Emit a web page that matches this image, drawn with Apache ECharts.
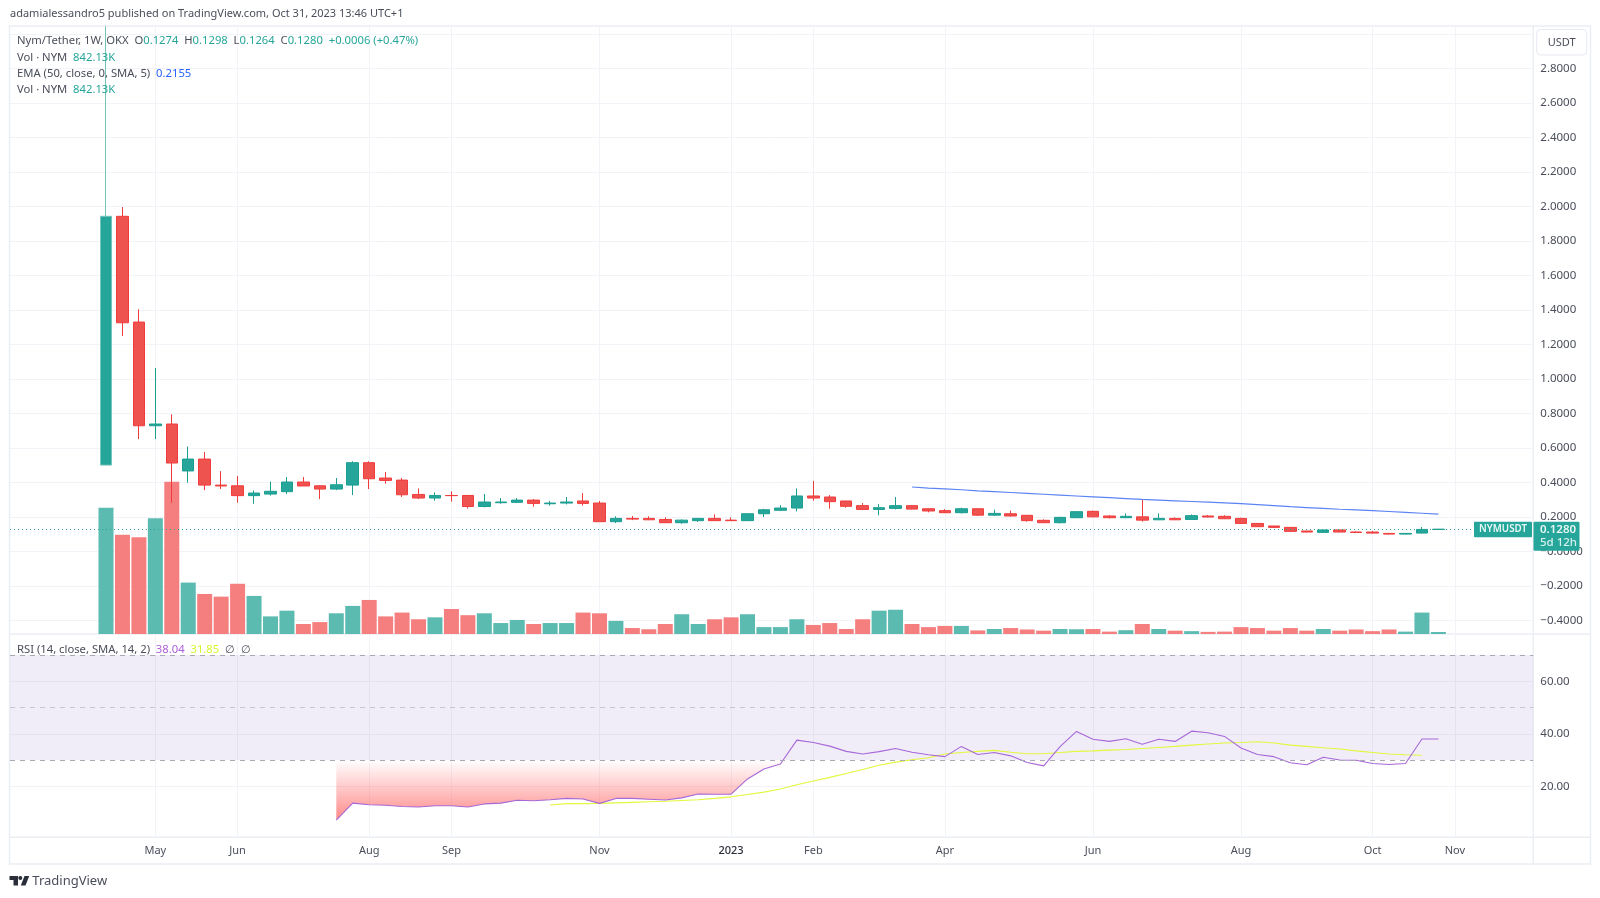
<!DOCTYPE html>
<html>
<head>
<meta charset="utf-8">
<style>html,body{margin:0;padding:0;background:#fff}#chart{width:1600px;height:898px}</style>
<script src="https://cdn.jsdelivr.net/npm/echarts@6/dist/echarts.min.js"></script>
</head>
<body>
<div id="chart"></div>
<script>
// weekly candles: open, close, low, high
const candles = [
  [0.500,1.942,0.500,3.045],[1.942,1.325,1.248,1.996],[1.329,0.728,0.651,1.403],[0.728,0.738,0.651,1.063],
  [0.738,0.512,0.282,0.794],[0.466,0.535,0.398,0.607],[0.535,0.384,0.355,0.576],[0.384,0.379,0.361,0.465],
  [0.380,0.323,0.282,0.437],[0.323,0.338,0.276,0.353],[0.332,0.348,0.323,0.404],[0.346,0.402,0.332,0.431],
  [0.402,0.379,0.379,0.431],[0.380,0.361,0.303,0.384],[0.361,0.386,0.355,0.425],[0.384,0.514,0.326,0.522],
  [0.514,0.421,0.361,0.522],[0.425,0.411,0.392,0.460],[0.413,0.328,0.315,0.425],[0.330,0.309,0.303,0.365],
  [0.309,0.324,0.294,0.342],[0.324,0.323,0.288,0.348],[0.324,0.260,0.249,0.324],[0.260,0.286,0.255,0.332],
  [0.282,0.286,0.276,0.309],[0.284,0.297,0.282,0.309],[0.297,0.278,0.259,0.303],[0.276,0.280,0.265,0.292],
  [0.280,0.286,0.272,0.315],[0.292,0.278,0.265,0.338],[0.280,0.172,0.172,0.292],[0.172,0.191,0.164,0.203],
  [0.191,0.187,0.181,0.205],[0.191,0.183,0.181,0.203],[0.185,0.166,0.164,0.197],[0.166,0.181,0.160,0.185],
  [0.178,0.191,0.170,0.191],[0.191,0.178,0.176,0.214],[0.181,0.178,0.176,0.197],[0.178,0.218,0.176,0.220],
  [0.218,0.241,0.199,0.247],[0.238,0.251,0.234,0.268],[0.251,0.321,0.232,0.365],[0.321,0.309,0.294,0.408],
  [0.315,0.288,0.247,0.326],[0.292,0.261,0.253,0.292],[0.265,0.243,0.243,0.280],[0.243,0.253,0.209,0.274],
  [0.249,0.265,0.243,0.315],[0.265,0.245,0.243,0.268],[0.247,0.234,0.226,0.247],[0.236,0.224,0.222,0.245],
  [0.224,0.247,0.220,0.253],[0.247,0.210,0.205,0.247],[0.210,0.220,0.205,0.241],[0.218,0.205,0.203,0.236],
  [0.209,0.178,0.172,0.209],[0.180,0.166,0.164,0.185],[0.166,0.197,0.162,0.200],[0.195,0.230,0.193,0.232],
  [0.232,0.200,0.198,0.236],[0.205,0.195,0.191,0.210],[0.195,0.203,0.193,0.220],[0.200,0.181,0.172,0.301],
  [0.183,0.191,0.181,0.220],[0.191,0.183,0.181,0.197],[0.185,0.207,0.183,0.214],[0.205,0.199,0.197,0.210],
  [0.203,0.189,0.187,0.209],[0.191,0.162,0.160,0.195],[0.162,0.143,0.143,0.162],[0.147,0.139,0.139,0.147],
  [0.139,0.116,0.116,0.139],[0.118,0.112,0.110,0.118],[0.110,0.124,0.110,0.124],[0.124,0.112,0.112,0.124],
  [0.112,0.110,0.110,0.116],[0.112,0.106,0.104,0.118],[0.104,0.100,0.098,0.104],[0.100,0.104,0.098,0.104],
  [0.106,0.127,0.104,0.141],[0.1274,0.1280,0.1264,0.1298]
];
// volume in millions
const volumes = [
  53,41.7,40.6,48.6,64,21.6,16.8,15.7,21.1,16,7.4,9.8,4.2,5,8.7,11.8,14.3,7.4,9,6.2,7,10.5,7.9,8.7,4.6,5.9,4.2,4.6,4.6,9,8.7,
  5.5,2.5,2,4.2,8.3,4.2,6.2,7,8.3,2.9,2.9,6.2,3.8,4.6,2.1,6.2,9.8,10.2,4.2,2.9,3.4,3.4,1.5,2.1,2.5,1.9,1.4,2.1,
  2,2.1,1,1.6,4.2,2.1,1.4,1.2,0.9,1,2.9,2.5,1.4,2.5,1.4,2.1,1.4,1.9,1.2,1.9,1,9,0.84
];
const emaStart = 49;
const emaValues = [0.373,0.367,0.362,0.357,0.351,0.346,0.341,0.336,0.331,0.326,0.321,0.316,0.311,0.306,0.301,0.297,0.293,0.289,0.285,0.281,0.277,0.271,0.265,0.259,0.254,0.249,0.244,0.240,0.236,0.231,0.226,0.221,0.2155];
const rsiStart = 14;
const rsiValues = [7.1,13.6,13,12.8,12.3,12.1,12.6,12.6,12.1,13.3,13.6,14.7,14.5,14.9,15.4,15.2,13.5,15.4,15.4,15.1,14.8,15.6,17.1,17,17,22.8,26.6,28.5,37.6,36.7,35.3,33.3,32.3,33.2,34.4,33,32,31.3,35.2,32.1,32.9,31.6,29.1,27.8,35.1,40.9,37.9,37.1,38.1,36,37.9,37.1,41,40.4,39,34.6,32.1,31.3,29,28.2,31.1,30,29.9,28.7,28.3,28.7,38,38.04];
const smaStart = 27;
const smaValues = [12.9,13.4,13.4,13.5,13.7,13.9,14.1,14.3,14.6,14.9,15.4,16,16.9,17.8,19,20.6,22,23.4,24.9,26.4,28,29.2,30.1,30.9,32.3,32.9,33.3,33.7,33,32.4,32.4,32.9,33.3,33.5,33.8,34,34.4,34.8,35.2,35.7,36.1,36.5,36.7,37,36.5,35.7,35.2,34.7,34.2,33.5,32.9,32.3,32,31.85];
const lastPrice = 0.128;
const monthTicks = [3,8,16,21,30,38,43,51,60,69,77,82];
const monthLabels = ['May','Jun','Aug','Sep','Nov','2023','Feb','Apr','Jun','Aug','Oct','Nov'];
const priceLabels = [2.8,2.6,2.4,2.2,2,1.8,1.6,1.4,1.2,1,0.8,0.6,0.4,0.2,0,-0.2,-0.4];
const priceGrid = [3].concat(priceLabels);
const rsiLabels = [60,40,20];

const UP = '#26a69a', DOWN = '#ef5350';
const FONT = '"Noto Sans", sans-serif';
const GRID = '#f1f3f8', FRAME = '#eceef5', TEXT = '#4a4e5a';

const chart = echarts.init(document.getElementById('chart'), null, { renderer: 'canvas' });

const xBase = { type: 'value', min: -5.836, max: 86.77, axisLine: { show: false },
  axisTick: { show: false, customValues: monthTicks }, splitLine: { show: true, lineStyle: { color: GRID, width: 1 } } };

function txt(x, y, text, size, fill, extra) {
  return { type: 'text', z: 100, silent: true, style: Object.assign({ x, y, text, fill, font: size + 'px ' + FONT, verticalAlign: 'middle' }, extra || {}) };
}
function hline(y) { return { type: 'line', z: 0, silent: true, shape: { x1: 10, y1: y, x2: 1590, y2: y }, style: { stroke: FRAME, lineWidth: 1.5 } }; }
function vline(x) { return { type: 'line', z: 0, silent: true, shape: { x1: x, y1: 26, x2: x, y2: 864 }, style: { stroke: FRAME, lineWidth: 1.5 } }; }

const LEGEND_FONT = '11.25px ' + FONT;
const legendRich = {
  k: { fill: TEXT, font: LEGEND_FONT },
  g: { fill: UP, font: LEGEND_FONT },
  b: { fill: '#2962ff', font: LEGEND_FONT },
  p: { fill: '#ab5fd8', font: LEGEND_FONT },
  y: { fill: '#d9f52e', font: LEGEND_FONT }
};
function legendLine(y, text) {
  return { type: 'text', z: 100, silent: true, style: { x: 17, y, text, verticalAlign: 'middle', rich: legendRich } };
}

chart.setOption({
  animation: false,
  backgroundColor: '#fff',
  textStyle: { fontFamily: 'Noto Sans' },
  grid: [
    { left: 10, right: 66.7, top: 26, height: 608 },
    { left: 10, right: 66.7, top: 634, height: 203.3 }
  ],
  xAxis: [
    Object.assign({ gridIndex: 0, axisLabel: { show: false } }, xBase),
    Object.assign({ gridIndex: 1, axisLabel: {
      show: true, customValues: monthTicks, margin: 8, color: TEXT, fontSize: 11, hideOverlap: false,
      formatter: v => { const s = monthLabels[monthTicks.indexOf(v)]; return s === '2023' ? '{y|2023}' : s; },
      rich: { y: { color: '#2a2e39', fontSize: 11, fontWeight: 500 } }
    } }, xBase)
  ],
  yAxis: [
    { gridIndex: 0, type: 'value', position: 'right', min: -0.479, max: 3.045, axisLine: { show: false },
      axisTick: { show: false, customValues: priceGrid }, splitLine: { show: true, lineStyle: { color: GRID } },
      axisLabel: { customValues: priceLabels, margin: 7, color: TEXT, fontSize: 11.5,
        formatter: v => v === 0 ? '\u22120.0000' : (v < 0 ? '\u2212' : '') + Math.abs(v).toFixed(4) } },
    { gridIndex: 0, type: 'value', min: 0, max: 255.4, show: false },
    { gridIndex: 1, type: 'value', position: 'right', min: 0.59, max: 78, axisLine: { show: false },
      axisTick: { show: false, customValues: rsiLabels }, splitLine: { show: true, lineStyle: { color: GRID } },
      axisLabel: { customValues: rsiLabels, margin: 7, color: TEXT, fontSize: 11.5, formatter: v => v.toFixed(2) } }
  ],
  series: [
    { name: 'Vol', type: 'bar', xAxisIndex: 0, yAxisIndex: 1, barWidth: 15, z: 1,
      data: volumes.map((v, i) => ({ value: [i, v],
        itemStyle: { color: candles[i][1] >= candles[i][0] ? '#5cbbb1' : '#f57f7f' } })) },
    { name: 'Nym/Tether', type: 'candlestick', xAxisIndex: 0, yAxisIndex: 0, barWidth: 12, z: 3,
      encode: { x: 0, y: [1, 2, 3, 4] },
      itemStyle: { color: UP, color0: DOWN, borderColor: '#1a9e90', borderColor0: '#f03c3c', borderWidth: 1 },
      // the first week's long wick is pale in the picture
      data: candles.map((c, i) => i === 0
        ? { value: [i].concat(c), itemStyle: { borderColor: '#74c4ba' } }
        : [i].concat(c)),
      markLine: { silent: true, symbol: 'none', label: { show: false }, animation: false,
        lineStyle: { color: '#26a69a', type: [1, 3], width: 1 }, data: [{ yAxis: lastPrice }] } },
    { name: 'EMA', type: 'line', xAxisIndex: 0, yAxisIndex: 0, symbol: 'none', z: 4,
      lineStyle: { color: '#5c83f5', width: 1.2 }, data: emaValues.map((v, i) => [i + emaStart, v]) },
    { name: 'RSI fill', type: 'line', xAxisIndex: 1, yAxisIndex: 2, symbol: 'none', z: 2, lineStyle: { width: 0 },
      areaStyle: { origin: 30, opacity: 1, color: { type: 'linear', x: 0, y: 0, x2: 0, y2: 1,
        colorStops: [{ offset: 0, color: 'rgba(255,82,82,0)' }, { offset: 1, color: 'rgba(255,82,82,0.68)' }] } },
      data: rsiValues.map((v, i) => [i + rsiStart, Math.min(v, 30)]) },
    { name: 'RSI', type: 'line', xAxisIndex: 1, yAxisIndex: 2, symbol: 'none', z: 4,
      lineStyle: { color: '#a768d8', width: 1.1 }, data: rsiValues.map((v, i) => [i + rsiStart, v]),
      markArea: { silent: true, itemStyle: { color: 'rgba(126,87,194,0.11)' }, data: [[{ yAxis: 70 }, { yAxis: 30 }]] },
      markLine: { silent: true, symbol: 'none', label: { show: false }, animation: false, data: [
        { yAxis: 70, lineStyle: { color: '#a9a9b3', type: [5, 5], width: 1 } },
        { yAxis: 50, lineStyle: { color: '#c6c5cf', type: [5, 5], width: 1 } },
        { yAxis: 30, lineStyle: { color: '#a9a9b3', type: [5, 5], width: 1 } }
      ] } },
    { name: 'RSI MA', type: 'line', xAxisIndex: 1, yAxisIndex: 2, symbol: 'none', z: 3,
      lineStyle: { color: '#e2f83c', width: 1.1 }, data: smaValues.map((v, i) => [i + smaStart, v]) }
  ],
  graphic: [
    // frame and panes
    { type: 'rect', z: 0, silent: true, shape: { x: 9.5, y: 26, width: 1581, height: 838 }, style: { fill: 'none', stroke: FRAME, lineWidth: 1.5 } },
    hline(634), hline(837.3), vline(1533.3),
    txt(10, 13.5, 'adamialessandro5 published on TradingView.com, Oct 31, 2023 13:46 UTC+1', 11, TEXT),
    legendLine(41, '{k|Nym/Tether, 1W, OKX  O}{g|0.1274}{k|  H}{g|0.1298}{k|  L}{g|0.1264}{k|  C}{g|0.1280  +0.0006 (+0.47%)}'),
    legendLine(57.5, '{k|Vol · NYM  }{g|842.13K}'),
    legendLine(73.7, '{k|EMA (50, close, 0, SMA, 5)  }{b|0.2155}'),
    legendLine(90.2, '{k|Vol · NYM  }{g|842.13K}'),
    legendLine(650, '{k|RSI (14, close, SMA, 14, 2)  }{p|38.04}{k|  }{y|31.85}{k|  ∅  ∅}'),
    // currency button
    { type: 'rect', z: 100, silent: true, shape: { x: 1536.7, y: 29.5, width: 50, height: 25.5, r: 4 }, style: { fill: '#fff', stroke: '#e6e9f2', lineWidth: 1 } },
    txt(1561.7, 42.5, 'USDT', 11, TEXT, { align: 'center' }),
    // last price tags
    { type: 'rect', z: 100, silent: true, shape: { x: 1474, y: 521.7, width: 58, height: 15.6, r: 1 }, style: { fill: '#26a69a' } },
    txt(1503, 529.6, 'NYMUSDT', 10, '#e8f7f5', { align: 'center', font: '600 9.8px ' + FONT }),
    { type: 'rect', z: 100, silent: true, shape: { x: 1533.5, y: 521.7, width: 46, height: 29, r: 1 }, style: { fill: '#26a69a' } },
    txt(1540, 529.6, '0.1280', 11.5, '#e8f7f5', { font: '600 11.5px ' + FONT }),
    txt(1540, 543, '5d 12h', 11.5, '#d6f0ed', { font: '500 11.5px ' + FONT }),
    // logo
    { type: 'polygon', z: 100, silent: true, shape: { points: [[9.5,876],[18,876],[18,885.6],[13.5,885.6],[13.5,880],[9.5,880]] }, style: { fill: '#2a2e39' } },
    { type: 'circle', z: 100, silent: true, shape: { cx: 20.3, cy: 878, r: 2 }, style: { fill: '#2a2e39' } },
    { type: 'polygon', z: 100, silent: true, shape: { points: [[24.5,876],[29.2,876],[25.5,885.6],[20.8,885.6]] }, style: { fill: '#2a2e39' } },
    txt(32.3, 881, 'TradingView', 13, TEXT)
  ]
});
</script>
</body>
</html>
